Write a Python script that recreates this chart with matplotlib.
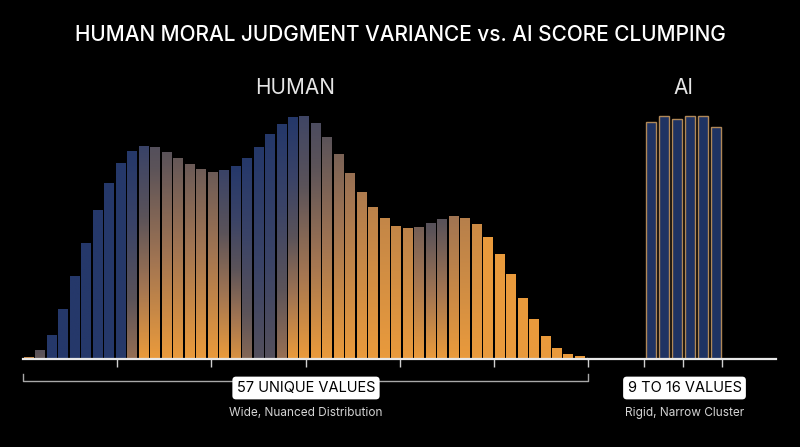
import numpy as np
import matplotlib
matplotlib.use("Agg")
import matplotlib.pyplot as plt
from matplotlib.colors import LinearSegmentedColormap

plt.rcParams['font.family'] = ['Inter', 'DejaVu Sans']

# Data (relative frequency, % of the tallest human bin)
human = [0.4, 3.2, 9.3, 20.1, 33.6, 47.4, 61.1, 72.1, 80.4, 85.6,
         87.7, 87.2, 85.2, 82.5, 80.0, 78.1, 76.7, 77.6, 79.4, 82.7,
         87.2, 92.4, 96.8, 99.6, 100.0, 97.0, 91.4, 84.4, 76.4, 68.7,
         62.4, 57.6, 54.6, 53.5, 54.2, 55.7, 57.3, 58.5, 57.6, 55.2,
         49.9, 42.9, 34.4, 24.8, 16.1, 8.8, 3.8, 1.4, 0.6]
ai = [98.1, 100.3, 99.0, 100.3, 100.3, 95.7]

title = "HUMAN MORAL JUDGMENT VARIANCE vs. AI SCORE CLUMPING"
human_label = "HUMAN"
ai_label = "AI"
human_box = "57 UNIQUE VALUES"
human_note = "Wide, Nuanced Distribution"
ai_box = "9 TO 16 VALUES"
ai_note = "Rigid, Narrow Cluster"

BG = "black"
cmap = LinearSegmentedColormap.from_list(
    "amber_navy",
    [(0.0, "#e99a3c"), (0.25, "#a27552"), (0.5, "#5b5359"),
     (0.75, "#3a4367"), (1.0, "#25386a")])

fig = plt.figure(figsize=(8, 4.47), dpi=100, facecolor=BG)
W, H = 800, 447
base = (H - 358.5) / H
top = (H - 100) / H
ax_h = fig.add_axes([23 / W, base, 565 / W, top - base])
ax_a = fig.add_axes([588 / W, base, 188 / W, top - base])
ymax = 107

# human bars: vertical gradient, bottom/top tint driven by local slope and height
vals = np.array(human)
hmax = vals.max()
slope = np.gradient(vals) / hmax
ks = np.where(slope > 0, 21.7, 2.0)
t_bot = np.clip(ks * slope - 0.49, 0, 1)
t_top = np.clip(ks * slope - 0.49 + 1.22 * vals / hmax, 0, 1)
bw = 0.87
for i, v in enumerate(vals):
    t = np.linspace(t_bot[i], t_top[i], 80)
    img = cmap(t)[:, None, :3]
    ax_h.imshow(img, extent=[i - bw / 2, i + bw / 2, 0, v], origin='lower',
                aspect='auto', interpolation='bilinear', zorder=2)

xl, xr = -0.523, 48.70
ax_h.set_xlim(xl, xr)
ax_h.set_ylim(0, ymax)
ax_h.set_xticks(np.linspace(xl, xr, 7)[1:])

# AI bars
xa = np.arange(len(ai))
ax_a.bar(xa, ai, width=0.77, color="#1f3363", edgecolor="#b08858",
         linewidth=1.0, zorder=2)
ax_a.set_xlim(-4.82, 9.64)
ax_a.set_ylim(0, ymax)
ax_a.set_xticks([-0.5, len(ai) / 2 - 0.5, len(ai) - 0.5])

for ax in (ax_h, ax_a):
    ax.set_facecolor(BG)
    for s in ("top", "right", "left"):
        ax.spines[s].set_visible(False)
    ax.spines["bottom"].set_color("#e8e8e8")
    ax.spines["bottom"].set_linewidth(1.6)
    ax.spines["bottom"].set_zorder(3)
    ax.set_yticks([])
    ax.set_xticklabels([])
    ax.tick_params(axis='x', direction='out', length=6, width=1,
                   color="#cfcfcf")

# bracket under the human distribution
bk = dict(color="#a8a8a8", lw=1, clip_on=False, transform=ax_h.transAxes)
ax_h.plot([0, 0, 1, 1], [-0.06, -0.087, -0.087, -0.06], **bk)

# texts
fig.text(0.5, 1 - 35 / H, title, ha='center', va='center', color='white',
         fontsize=15, fontweight='medium')
fig.text(295 / W, 1 - 88 / H, human_label, ha='center', va='center',
         color='#e6e6e6', fontsize=15)
fig.text(683 / W, 1 - 88 / H, ai_label, ha='center', va='center',
         color='#e6e6e6', fontsize=15)

box = dict(boxstyle="round,pad=0.3,rounding_size=0.25", fc="white",
           ec="none")
fig.text(306 / W, 1 - 388 / H, human_box, ha='center', va='center',
         color='black', fontsize=10.5, bbox=box)
fig.text(684.5 / W, 1 - 388 / H, ai_box, ha='center', va='center',
         color='black', fontsize=10.5, bbox=box)
fig.text(306 / W, 1 - 413 / H, human_note, ha='center', va='center',
         color='#d4d4d4', fontsize=8.5)
fig.text(684.5 / W, 1 - 413 / H, ai_note, ha='center', va='center',
         color='#d4d4d4', fontsize=8.5)

fig.savefig("out.png", dpi=100, facecolor=BG)
